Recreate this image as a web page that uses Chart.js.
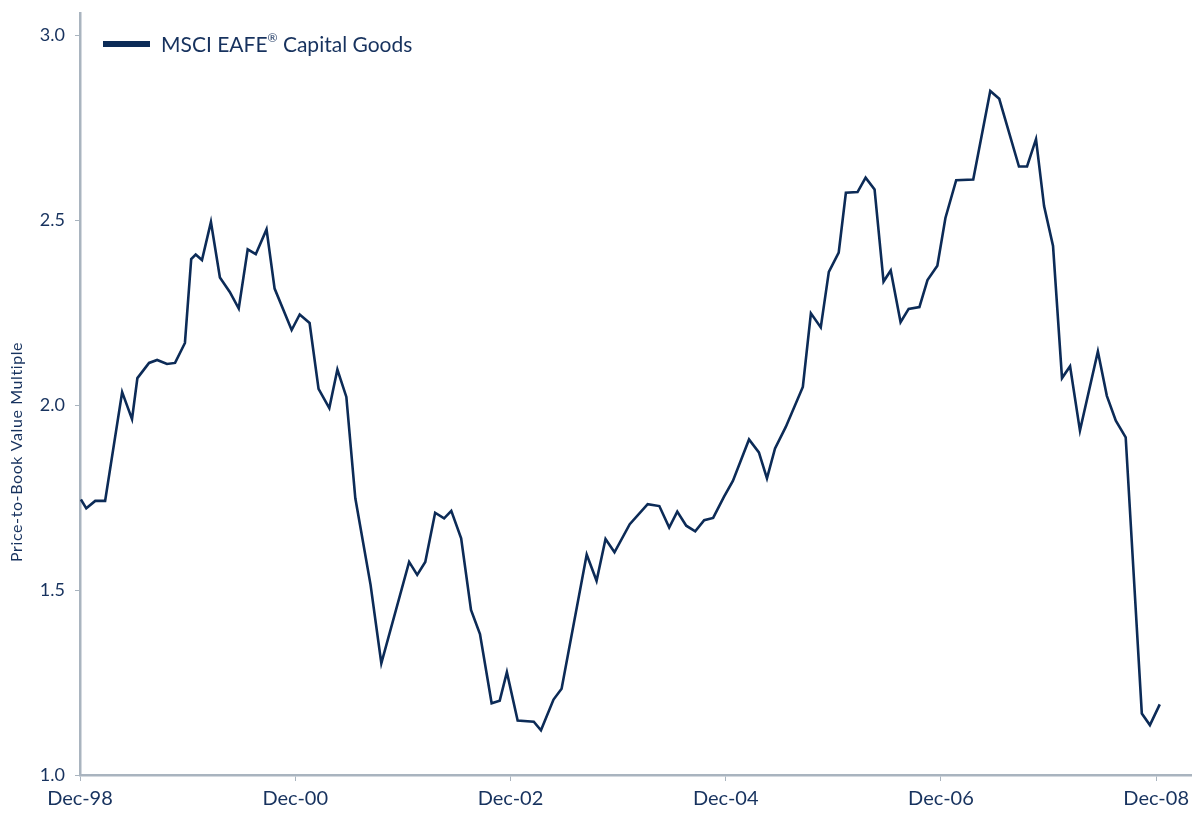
<!DOCTYPE html>
<html>
<head>
<meta charset="utf-8">
<title>MSCI EAFE Capital Goods - Price-to-Book</title>
<script src="https://cdn.jsdelivr.net/npm/chart.js@4.4.0/dist/chart.umd.min.js"></script>
<style>
  html, body { margin: 0; padding: 0; background: #fff; }
  #wrap { position: relative; width: 1195px; height: 813px; }
  #legend {
    position: absolute; left: 103px; top: 31px;
    display: flex; align-items: center;
    font-family: Lato, "Open Sans", sans-serif; font-size: 21px; color: #17325e;
  }
  #legend .swatch { width: 47px; height: 6px; background: #0c2b57; margin-right: 11px; }
  #legend sup { font-size: 12px; position: relative; top: -2px; }
</style>
</head>
<body>
<div id="wrap">
  <canvas id="chart" width="1195" height="813"></canvas>
  <div id="legend"><span class="swatch"></span><span>MSCI EAFE<sup>®</sup> Capital Goods</span></div>
</div>
<script>
// Monate seit Dec-98 (Datenpunkte liegen nicht genau auf Monatsanfang)
const monthIndex = [
  0.1, 0.7, 1.7, 2.8, 4.7, 5.8, 6.4, 7.7, 8.6, 9.7,
  10.6, 11.7, 12.4, 12.9, 13.6, 14.6, 15.6, 16.7, 17.7, 18.7,
  19.6, 20.8, 21.7, 23.6, 24.5, 25.6, 26.6, 27.8, 28.7, 29.7,
  30.7, 32.4, 33.6, 36.7, 37.6, 38.5, 39.6, 40.6, 41.4, 42.5,
  43.6, 44.6, 45.9, 46.8, 47.6, 48.8, 50.6, 51.4, 52.8, 53.7,
  56.5, 57.6, 58.6, 59.6, 61.3, 63.3, 64.6, 65.7, 66.6, 67.6,
  68.6, 69.6, 70.6, 71.8, 72.8, 74.6, 75.7, 76.6, 77.5, 78.7,
  80.6, 81.5, 82.6, 83.5, 84.6, 85.4, 86.7, 87.6, 88.6, 89.6,
  90.4, 91.5, 92.4, 93.6, 94.5, 95.6, 96.5, 97.7, 99.6, 101.5,
  102.5, 104.7, 105.6, 106.6, 107.5, 108.5, 109.5, 110.4, 111.5, 113.5,
  114.5, 115.5, 116.6, 118.4, 119.3, 120.4
];

// Price-to-Book Multiple
const pbMultiple = [
  1.745, 1.721, 1.741, 1.741, 2.035, 1.962, 2.073, 2.114, 2.122, 2.111,
  2.114, 2.168, 2.395, 2.407, 2.392, 2.495, 2.345, 2.306, 2.261, 2.421,
  2.408, 2.475, 2.315, 2.203, 2.245, 2.222, 2.044, 1.992, 2.096, 2.022,
  1.748, 1.514, 1.302, 1.576, 1.541, 1.576, 1.709, 1.694, 1.714, 1.640,
  1.446, 1.381, 1.194, 1.201, 1.278, 1.147, 1.144, 1.121, 1.204, 1.233,
  1.596, 1.525, 1.638, 1.602, 1.678, 1.732, 1.727, 1.669, 1.712, 1.674,
  1.659, 1.689, 1.695, 1.752, 1.795, 1.907, 1.872, 1.802, 1.883, 1.941,
  2.049, 2.248, 2.210, 2.360, 2.412, 2.574, 2.576, 2.615, 2.583, 2.334,
  2.364, 2.224, 2.260, 2.265, 2.338, 2.377, 2.506, 2.608, 2.610, 2.849,
  2.828, 2.645, 2.645, 2.719, 2.538, 2.430, 2.073, 2.105, 1.931, 2.145,
  2.025, 1.958, 1.913, 1.166, 1.135, 1.191
];

const xTickMonths = [0, 24, 48, 72, 96, 120];
const xTickLabels = ["Dec-98", "Dec-00", "Dec-02", "Dec-04", "Dec-06", "Dec-08"];
const yTicks = [1.0, 1.5, 2.0, 2.5, 3.0];

const seriesName = "MSCI EAFE® Capital Goods";
const yAxisTitle = "Price-to-Book Value Multiple";
const navy = "#0c2b57";
const textColor = "#17325e";
const axisColor = "#a9b4bf";

const points = monthIndex.map((m, i) => ({ x: m, y: pbMultiple[i] }));

// Achsentitel selbst zeichnen (sitzt im Original tiefer als die Mitte)
const yTitlePlugin = {
  id: 'yTitle',
  afterDraw(chart) {
    const c = chart.ctx;
    const area = chart.chartArea;
    c.save();
    c.translate(17, area.top + (area.bottom - area.top) * 0.576);
    c.rotate(-Math.PI / 2);
    c.font = '16px Lato';
    c.letterSpacing = '0.6px';
    c.fillStyle = textColor;
    c.textAlign = 'center';
    c.textBaseline = 'middle';
    c.fillText(yAxisTitle, 0, 0);
    c.restore();
  }
};

const ctx = document.getElementById('chart').getContext('2d');
let pbChart = new Chart(ctx, {
  type: 'line',
  data: {
    datasets: [{
      label: seriesName,
      data: points,
      borderColor: navy,
      borderWidth: 2.6,
      pointRadius: 0,
      tension: 0,
      fill: false
    }]
  },
  options: {
    responsive: false,
    animation: false,
    layout: { padding: { top: 13, right: 0, left: 0, bottom: 0 } },
    plugins: {
      legend: { display: false },
      tooltip: { enabled: false }
    },
    scales: {
      x: {
        type: 'linear',
        min: 0,
        max: 123.9,
        afterBuildTicks: scale => { scale.ticks = xTickMonths.map(v => ({ value: v })); },
        afterFit: scale => { scale.height = 38; },
        border: { color: axisColor, width: 2.5 },
        grid: { drawOnChartArea: false, tickLength: 6, color: axisColor, lineWidth: 1 },
        ticks: {
          color: textColor,
          padding: 6,
          maxRotation: 0,
          font: { family: 'Lato', size: 20 },
          callback: (value, index) => xTickLabels[index]
        }
      },
      y: {
        min: 1.0,
        max: 3.06,
        afterBuildTicks: scale => { scale.ticks = yTicks.map(v => ({ value: v })); },
        afterFit: scale => {
          scale.width = 80;
          scale.paddingTop = 0;
          scale.paddingBottom = 0;
        },
        border: { color: axisColor, width: 2.5 },
        grid: { drawOnChartArea: false, tickLength: 5, color: axisColor, lineWidth: 1 },
        ticks: {
          color: textColor,
          padding: 10,
          font: { family: 'Lato', size: 18 },
          callback: v => Number(v).toFixed(1)
        }
      }
    }
  },
  plugins: [yTitlePlugin]
});
</script>
</body>
</html>
